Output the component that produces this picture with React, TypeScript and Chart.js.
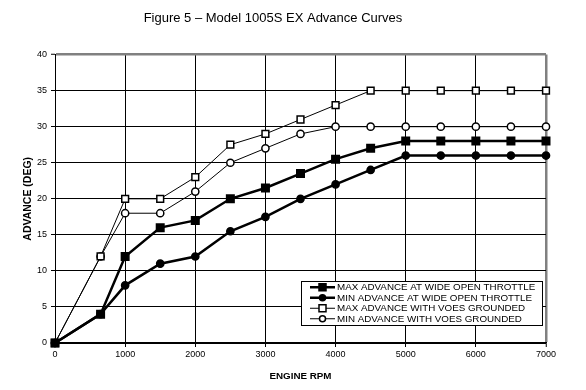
import React, { useEffect, useRef } from 'react';
import { Chart, registerables } from 'chart.js';

Chart.register(...registerables);

const rpm = [0, 650, 1000, 1500, 2000, 2500, 3000, 3500, 4000, 4500, 5000, 5500, 6000, 6500, 7000];
const maxWot = [0, 4, 12, 16, 17, 20, 21.5, 23.5, 25.5, 27, 28, 28, 28, 28, 28];
const minWot = [0, 4, 8, 11, 12, 15.5, 17.5, 20, 22, 24, 26, 26, 26, 26, 26];
const maxVoes = [0, 12, 20, 20, 23, 27.5, 29, 31, 33, 35, 35, 35, 35, 35, 35];
const minVoes = [0, 12, 18, 18, 21, 25, 27, 29, 30, 30, 30, 30, 30, 30, 30];

const seriesLabels = [
  'MAX ADVANCE AT WIDE OPEN THROTTLE',
  'MIN ADVANCE AT WIDE OPEN THROTTLE',
  'MAX ADVANCE WITH VOES GROUNDED',
  'MIN ADVANCE WITH VOES GROUNDED',
];
const titleText = 'Figure 5 \u2013 Model 1005S EX Advance Curves';
const xTitle = 'ENGINE RPM';
const yTitle = 'ADVANCE (DEG)';

const FONT = '"Liberation Sans", Arial, Helvetica, sans-serif';

const toPoints = (ys: number[]) => ys.map((y, i) => ({ x: rpm[i], y }));

function drawMarker(ctx: CanvasRenderingContext2D, style: string, filled: boolean, x: number, y: number, size: number) {
  ctx.beginPath();
  if (style === 'rect') {
    ctx.rect(x - size / 2, y - size / 2, size, size);
  } else {
    ctx.arc(x, y, size / 2, 0, Math.PI * 2);
  }
  ctx.fillStyle = filled ? '#000' : '#fff';
  ctx.fill();
  ctx.lineWidth = 1.5;
  ctx.strokeStyle = '#000';
  ctx.stroke();
}

const legendPlugin = {
  id: 'boxLegend',
  afterDatasetsDraw(chart: any) {
    const { ctx, chartArea } = chart;
    ctx.save();
    ctx.font = `9.8px ${FONT}`;
    const ds = chart.data.datasets;
    const labels: string[] = ds.map((d: any) => d.label);
    const maxW = Math.max(...labels.map((l) => ctx.measureText(l).width));
    const rowH = 10.5;
    const padX = 9;
    const sampleW = 25;
    const gap = 2;
    const w = Math.round(padX + sampleW + gap + maxW + 7);
    const h = 44;
    const right = chartArea.right - 4;
    const bottom = chartArea.bottom - 18;
    const left = Math.round(right - w);
    const top = Math.round(bottom - h);
    ctx.fillStyle = '#fff';
    ctx.fillRect(left, top, w, h);
    ctx.strokeStyle = '#000';
    ctx.lineWidth = 1;
    ctx.strokeRect(left + 0.5, top + 0.5, w, h);
    ds.forEach((d: any, i: number) => {
      const y = top + 1 + rowH * (i + 0.5);
      const x0 = left + padX;
      ctx.beginPath();
      ctx.moveTo(x0, y);
      ctx.lineTo(x0 + sampleW, y);
      ctx.lineWidth = d.borderWidth;
      ctx.strokeStyle = '#000';
      ctx.stroke();
      const filled = d.pointBackgroundColor === '#000';
      drawMarker(ctx, d.pointStyle, filled, x0 + sampleW / 2, y, d.pointStyle === 'rect' ? 7 : 6);
      ctx.fillStyle = '#000';
      ctx.textBaseline = 'middle';
      ctx.textAlign = 'left';
      ctx.fillText(d.label, x0 + sampleW + gap, y + 0.5);
    });
    ctx.restore();
  },
};

export default function App() {
  const ref = useRef<HTMLCanvasElement | null>(null);

  useEffect(() => {
    document.body.style.margin = '0';
    const canvas = ref.current;
    if (!canvas) return;
    Chart.defaults.font.family = FONT;
    Chart.defaults.color = '#000';

    const mk = (label: string, ys: number[], style: string, filled: boolean, bw: number, r: number) => ({
      label,
      data: toPoints(ys),
      borderColor: '#000',
      borderWidth: bw,
      pointStyle: style,
      pointRadius: r,
      pointHoverRadius: r,
      pointBackgroundColor: filled ? '#000' : '#fff',
      pointBorderColor: '#000',
      pointBorderWidth: 1.5,
      tension: 0,
      fill: false,
      clip: 10,
    });

    const chart = new Chart(canvas, {
      type: 'line',
      data: {
        datasets: [
          mk(seriesLabels[0], maxWot, 'rect', true, 2.5, 5.3),
          mk(seriesLabels[1], minWot, 'circle', true, 2.5, 3.6),
          mk(seriesLabels[2], maxVoes, 'rect', false, 1, 4.8),
          mk(seriesLabels[3], minVoes, 'circle', false, 1, 3.6),
        ] as any,
      },
      options: {
        animation: false,
        responsive: false,
        maintainAspectRatio: false,
        layout: { padding: { left: 0, right: 40, top: 0, bottom: 0 } },
        plugins: {
          legend: { display: false },
          tooltip: { enabled: false },
          title: {
            display: true,
            text: titleText,
            color: '#000',
            font: { family: FONT, size: 13, weight: 'normal' },
            padding: { top: 11, bottom: 28 },
          },
        },
        scales: {
          x: {
            type: 'linear',
            min: 0,
            max: 7000,
            afterFit: (s: any) => { s.height = 47; },
            ticks: {
              stepSize: 1000,
              font: { size: 9 },
              color: '#000',
              padding: 2,
              maxRotation: 0,
              callback: (v: any) => String(v),
            },
            grid: {
              color: (c: any) => (c.tick && c.tick.value === 7000 ? '#808080' : '#000'),
              lineWidth: (c: any) => (c.tick && c.tick.value === 7000 ? 2.5 : 1),
              tickColor: '#000',
              tickLength: 4,
              tickWidth: 1,
            },
            border: { color: '#000', width: 1.5 },
            title: {
              display: true,
              text: xTitle,
              color: '#000',
              font: { size: 9.8, weight: 'bold' },
              padding: { top: 4, bottom: 8 },
            },
          },
          y: {
            type: 'linear',
            min: 0,
            max: 40,
            afterFit: (s: any) => { s.width = 55; },
            ticks: { stepSize: 5, font: { size: 9 }, color: '#000', padding: 4, callback: (v: any) => String(v) },
            grid: {
              color: (c: any) => (c.tick && c.tick.value === 40 ? '#808080' : '#000'),
              lineWidth: (c: any) => (c.tick && c.tick.value === 40 ? 2.5 : 1),
              tickColor: '#000',
              tickLength: 4,
              tickWidth: 1,
            },
            border: { color: '#000', width: 1 },
            title: {
              display: true,
              text: yTitle,
              color: '#000',
              font: { size: 10.5, weight: 'bold' },
              padding: { top: 22, bottom: 0 },
            },
          },
        },
      },
      plugins: [legendPlugin],
    });
    return () => chart.destroy();
  }, []);

  return (
    <div style={{ position: 'absolute', left: 0, top: 0, width: 586, height: 390, background: '#fff' }}>
      <canvas ref={ref} width={586} height={390} style={{ width: 586, height: 390 }} />
    </div>
  );
}
